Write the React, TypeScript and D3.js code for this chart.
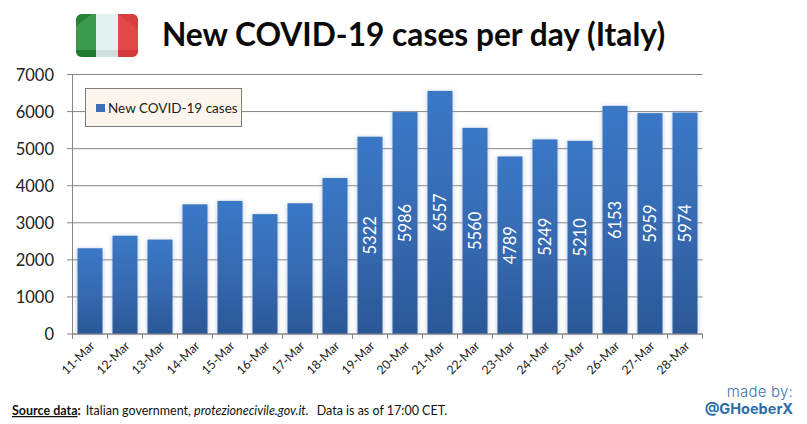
import React from "react";
import * as d3 from "d3";

const categories = ["11-Mar","12-Mar","13-Mar","14-Mar","15-Mar","16-Mar","17-Mar","18-Mar","19-Mar","20-Mar","21-Mar","22-Mar","23-Mar","24-Mar","25-Mar","26-Mar","27-Mar","28-Mar"];
const cases = [2313,2651,2547,3497,3590,3233,3526,4207,5322,5986,6557,5560,4789,5249,5210,6153,5959,5974];
const labelledFrom = "19-Mar";
const yTicks = [0,1000,2000,3000,4000,5000,6000,7000];
const title = "New COVID-19 cases per day (Italy)";
const seriesName = "New COVID-19 cases";
const FONT = "Lato, Carlito, Calibri, sans-serif";

export default function App() {
  const x = d3.scaleBand<string>().domain(categories).range([72.5, 702.5]).paddingInner(0.286).paddingOuter(0.143);
  const y = d3.scaleLinear().domain([0, 7000]).range([334, 74.5]);
  const firstLabel = categories.indexOf(labelledFrom);
  const edges = d3.range(categories.length + 1).map(i => 72.5 + i * 35);
  return (
    <svg width={807} height={424} style={{position:"absolute",left:0,top:0,background:"#fff"}} fontFamily={FONT}>
      <defs>
        <linearGradient id="bar" x1="0" y1="0" x2="0" y2="1">
          <stop offset="0" stopColor="#3a78c6"/>
          <stop offset="0.55" stopColor="#3669b0"/>
          <stop offset="1" stopColor="#2a5796"/>
        </linearGradient>
        <filter id="sh" x="-20%" y="-5%" width="140%" height="110%">
          <feGaussianBlur stdDeviation="2"/>
        </filter>
        <clipPath id="flag"><rect x={76} y={14} width={62} height={43} rx={6}/></clipPath>
      </defs>

      <g clipPath="url(#flag)">
        <rect x={76} y={14} width={20} height={43} fill="#3c9a50"/>
        <rect x={96} y={14} width={22} height={43} fill="#e4f2ef"/>
        <rect x={118} y={14} width={20} height={43} fill="#e24a4a"/>
        <path d="M76 14H92L76 26Z" fill="#25803a"/>
        <path d="M118 14H138V30Z" fill="#d93f3f"/>
        <rect x={76} y={50} width={20} height={7} fill="#1f7a30"/>
        <rect x={96} y={50} width={22} height={7} fill="#cfe0dc"/>
        <rect x={118} y={50} width={20} height={7} fill="#d23c3c"/>
      </g>
      <text x={413.5} y={46} textAnchor="middle" fontSize={31.7} fontWeight={700} fill="#0a0a0a">{title}</text>

      {yTicks.map(t => (
        <g key={t}>
          <line x1={67} x2={702.5} y1={y(t)} y2={y(t)} stroke="#868686" strokeWidth={1}/>
          <text x={54} y={y(t)+6} textAnchor="end" fontSize={16.5} fill="#222">{t}</text>
        </g>
      ))}
      <line x1={72.5} x2={72.5} y1={74.5} y2={339} stroke="#868686"/>
      {edges.map((e,i) => <line key={i} x1={e} x2={e} y1={334} y2={339} stroke="#868686"/>)}

      {categories.map((c,i) => (
        <g key={c}>
          <rect x={x(c)!-1} y={y(cases[i])} width={x.bandwidth()+2} height={334-y(cases[i])} fill="#8fa6c8" opacity={0.45} filter="url(#sh)"/>
          <rect x={x(c)} y={y(cases[i])} width={x.bandwidth()} height={334-y(cases[i])} fill="url(#bar)"/>
        </g>
      ))}
      <line x1={72.5} x2={702.5} y1={334} y2={334} stroke="#868686"/>

      {categories.map((c,i) => i >= firstLabel && (
        <text key={c} transform={`translate(${x(c)!+x.bandwidth()/2+6},${(y(cases[i])+334)/2}) rotate(-90)`} textAnchor="middle" fontSize={16.5} fill="#fff">{cases[i]}</text>
      ))}

      {categories.map(c => (
        <text key={c} transform={`translate(${x(c)!+x.bandwidth()/2+5.5},346.5) rotate(-45)`} textAnchor="end" fontSize={12.3} fill="#222">{c}</text>
      ))}

      <rect x={85.5} y={88.5} width={156} height={38} fill="#fcf5ee" stroke="#807d79"/>
      <rect x={96} y={104} width={9} height={8} fill="#3a6fb5"/>
      <text x={108} y={113} fontSize={13.5} fill="#222">{seriesName}</text>

      <text x={12} y={415} fontSize={12.5} fill="#111">
        <tspan fontWeight={700} textDecoration="underline">Source data</tspan>
        <tspan fontWeight={700}>:</tspan>
        <tspan dx={5}>Italian government, </tspan>
        <tspan fontStyle="italic">protezionecivile.gov.it.</tspan>
        <tspan dx={8}>Data is as of 17:00 CET.</tspan>
      </text>

      <text x={793} y={397} textAnchor="end" fontSize={15} fontFamily="Inter, sans-serif" fontWeight={300} letterSpacing={0.2} fill="#3a78ad">made by:</text>
      <text x={793} y={414} textAnchor="end" fontSize={14.5} fontFamily="Inter, sans-serif" fontWeight={700} fill="#2c6ea6">@GHoeberX</text>
    </svg>
  );
}
